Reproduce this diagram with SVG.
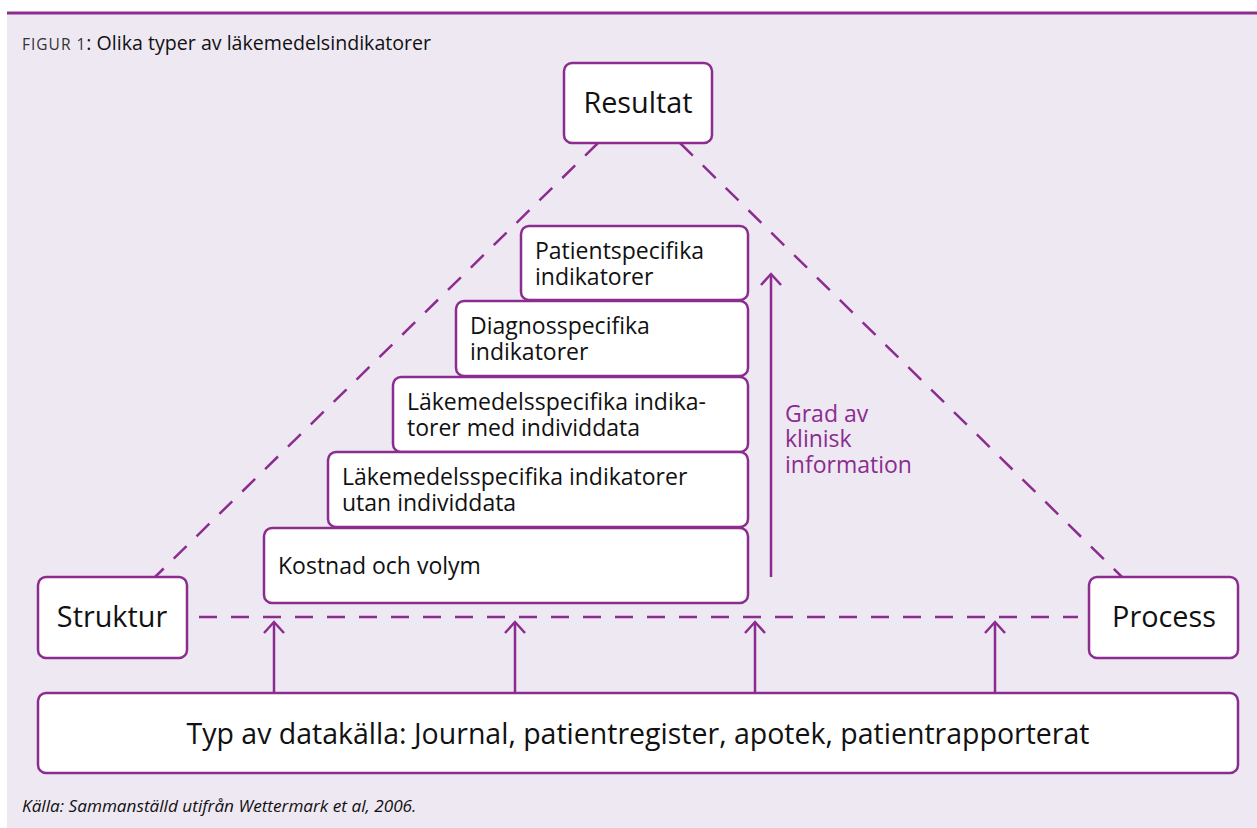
<svg xmlns="http://www.w3.org/2000/svg" width="1257" height="828" viewBox="0 0 1257 828">
<defs>
<style>
.bg{fill:#EEE8F3}
.box{fill:#FFFFFF;stroke:#8B2C8F;stroke-width:2.5}
.dash{fill:none;stroke:#8B2C8F;stroke-width:2.5;stroke-dasharray:18 14}
.line{fill:none;stroke:#8B2C8F;stroke-width:2.5}
text{font-family:"Open Sans","Noto Sans","DejaVu Sans",sans-serif;fill:#111111}
.big{font-size:28.8px;text-anchor:middle}
.mid{font-size:23px}
.purple{fill:#8B2C8F}
</style>
<marker id="chev" viewBox="-14 -12 16 24" refX="0" refY="0" markerWidth="16" markerHeight="24" markerUnits="userSpaceOnUse" orient="auto">
<path d="M-11,-10 L0,0 L-11,10" fill="none" stroke="#8B2C8F" stroke-width="2.5"/>
</marker>
</defs>
<rect class="bg" x="7" y="14" width="1250" height="814"/>
<line x1="7" y1="13" x2="1257" y2="13" stroke="#8B2C8F" stroke-width="3"/>
<text x="22" y="50" font-size="19.6"><tspan font-size="15.5" letter-spacing="1" fill="#333333">FIGUR 1</tspan>: Olika typer av läkemedelsindikatorer</text>
<g id="connectors">
<line class="dash" x1="598" y1="143" x2="155" y2="577"/>
<line class="dash" x1="680" y1="143" x2="1122" y2="577"/>
<line class="dash" x1="199" y1="617" x2="1078" y2="617"/>
<line class="line" x1="771" y1="577" x2="771" y2="274" marker-end="url(#chev)"/>
<line class="line" x1="274" y1="693" x2="274" y2="622" marker-end="url(#chev)"/>
<line class="line" x1="515" y1="693" x2="515" y2="622" marker-end="url(#chev)"/>
<line class="line" x1="755" y1="693" x2="755" y2="622" marker-end="url(#chev)"/>
<line class="line" x1="995" y1="693" x2="995" y2="622" marker-end="url(#chev)"/>
</g>
<g id="resultat">
<rect class="box" x="564" y="63" width="148" height="80" rx="8"/>
<text class="big" x="638" y="113">Resultat</text>
</g>
<g id="struktur">
<rect class="box" x="38" y="577" width="149" height="81" rx="8"/>
<text class="big" x="112" y="627">Struktur</text>
</g>
<g id="process">
<rect class="box" x="1089" y="577" width="149" height="81" rx="8"/>
<text class="big" x="1164" y="627">Process</text>
</g>
<g id="patientspecifika">
<rect class="box" x="521" y="226" width="227" height="74" rx="8"/>
<text class="mid" x="535" y="259">Patientspecifika</text>
<text class="mid" x="535" y="285">indikatorer</text>
</g>
<g id="diagnosspecifika">
<rect class="box" x="456" y="301" width="292" height="75" rx="8"/>
<text class="mid" x="470" y="334">Diagnosspecifika</text>
<text class="mid" x="470" y="360">indikatorer</text>
</g>
<g id="lakemedel-med">
<rect class="box" x="393" y="377" width="355" height="75" rx="8"/>
<text class="mid" x="407" y="410">Läkemedelsspecifika indika-</text>
<text class="mid" x="407" y="436">torer med individdata</text>
</g>
<g id="lakemedel-utan">
<rect class="box" x="328" y="452" width="420" height="75" rx="8"/>
<text class="mid" x="342" y="485">Läkemedelsspecifika indikatorer</text>
<text class="mid" x="342" y="511">utan individdata</text>
</g>
<g id="kostnad">
<rect class="box" x="264" y="528" width="484" height="75" rx="8"/>
<text class="mid" x="278" y="574">Kostnad och volym</text>
</g>
<g id="grad">
<text class="mid purple" x="785" y="422">Grad av</text>
<text class="mid purple" x="785" y="447">klinisk</text>
<text class="mid purple" x="785" y="473">information</text>
</g>
<g id="datakalla">
<rect class="box" x="38" y="693" width="1200" height="80" rx="8"/>
<text class="big" x="638" y="744" style="font-size:28.5px">Typ av datakälla: Journal, patientregister, apotek, patientrapporterat</text>
</g>
<text x="22" y="812" font-size="17.2" font-style="italic">Källa: Sammanställd utifrån Wettermark et al, 2006.</text>
</svg>
